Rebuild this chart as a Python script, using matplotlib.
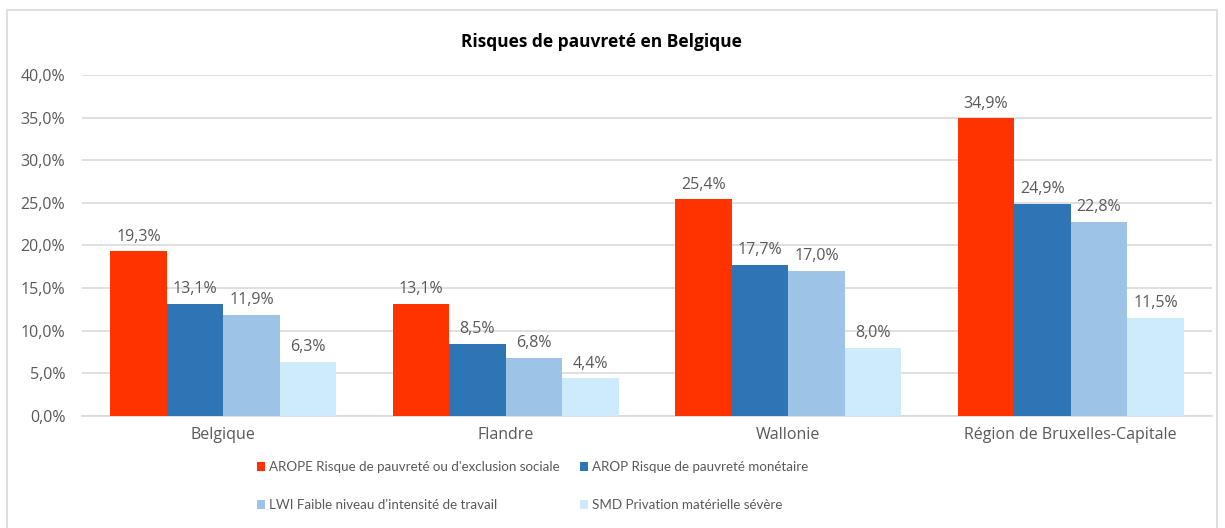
import numpy as np
import matplotlib.pyplot as plt
from matplotlib.patches import Rectangle, Patch

plt.rcParams['font.family'] = ['Open Sans', 'DejaVu Sans']

categories = ["Belgique", "Flandre", "Wallonie", "Région de Bruxelles-Capitale"]
series_names = [
    "AROPE Risque de pauvreté ou d'exclusion sociale",
    "AROP Risque de pauvreté monétaire",
    "LWI Faible niveau d'intensité de travail",
    "SMD Privation matérielle sévère",
]
arope = [19.3, 13.1, 25.4, 34.9]
arop = [13.1, 8.5, 17.7, 24.9]
lwi = [11.9, 6.8, 17.0, 22.8]
smd = [6.3, 4.4, 8.0, 11.5]
colors = ["#FF3300", "#2E75B6", "#9DC3E6", "#CDEBFB"]

text_col = "#595959"
grid_col = "#D9D9D9"
fs = 11.5

fig = plt.figure(figsize=(12.25, 5.28), dpi=100)
ax = fig.add_axes([0.0669, 0.2121, 0.9224, 0.6459])

# chart frame
fig.patches.append(Rectangle((7 / 1225, -0.05), 1210 / 1225, 1 - 10 / 528 + 0.05,
                             transform=fig.transFigure, fill=False,
                             edgecolor=grid_col, linewidth=1.2))

x = np.arange(len(categories))
w = 0.2
for i, (vals, c) in enumerate(zip([arope, arop, lwi, smd], colors)):
    pos = x + (i - 1.5) * w
    ax.bar(pos, vals, width=w, color=c, zorder=3)
    for p, v in zip(pos, vals):
        ax.annotate(f"{v:.1f}%".replace(".", ","), (p, v), xytext=(0, 5),
                    textcoords="offset points", ha="center", va="bottom",
                    fontsize=fs, color=text_col)

ax.set_xlim(-0.5, 3.5)
ax.set_ylim(0, 40)
yt = np.arange(0, 41, 5)
ax.set_yticks(yt)
ax.set_yticklabels([f"{v:.1f}%".replace(".", ",") for v in yt], fontsize=fs, color=text_col)
ax.set_xticks(x)
ax.set_xticklabels(categories, fontsize=fs, color=text_col)
ax.tick_params(axis="both", length=0)
ax.tick_params(axis="y", pad=12)
ax.tick_params(axis="x", pad=8)
ax.grid(axis="y", color=grid_col, linewidth=1.2, zorder=0)
for s in ["top", "right", "left"]:
    ax.spines[s].set_visible(False)
ax.spines["bottom"].set_color(grid_col)
ax.spines["bottom"].set_linewidth(1.2)

fig.text(0.491, 0.92, "Risques de pauvreté en Belgique", ha="center", va="center",
         fontsize=12.5, fontweight="bold", color="black")

# matplotlib fills legend column by column; reorder so rows read like the reference
order = [0, 2, 1, 3]
handles = [Patch(facecolor=colors[k], edgecolor="none") for k in order]
labels = [series_names[k] for k in order]
fig.legend(handles, labels, loc="center left", bbox_to_anchor=(245 / 1225, 0.0795),
           ncol=2, frameon=False, prop={"family": "Lato", "size": 9.6},
           labelcolor=text_col,
           handlelength=0.6, handleheight=0.6, handletextpad=0.3,
           columnspacing=1.5, labelspacing=1.95)

fig.savefig("out.png", dpi=100)
